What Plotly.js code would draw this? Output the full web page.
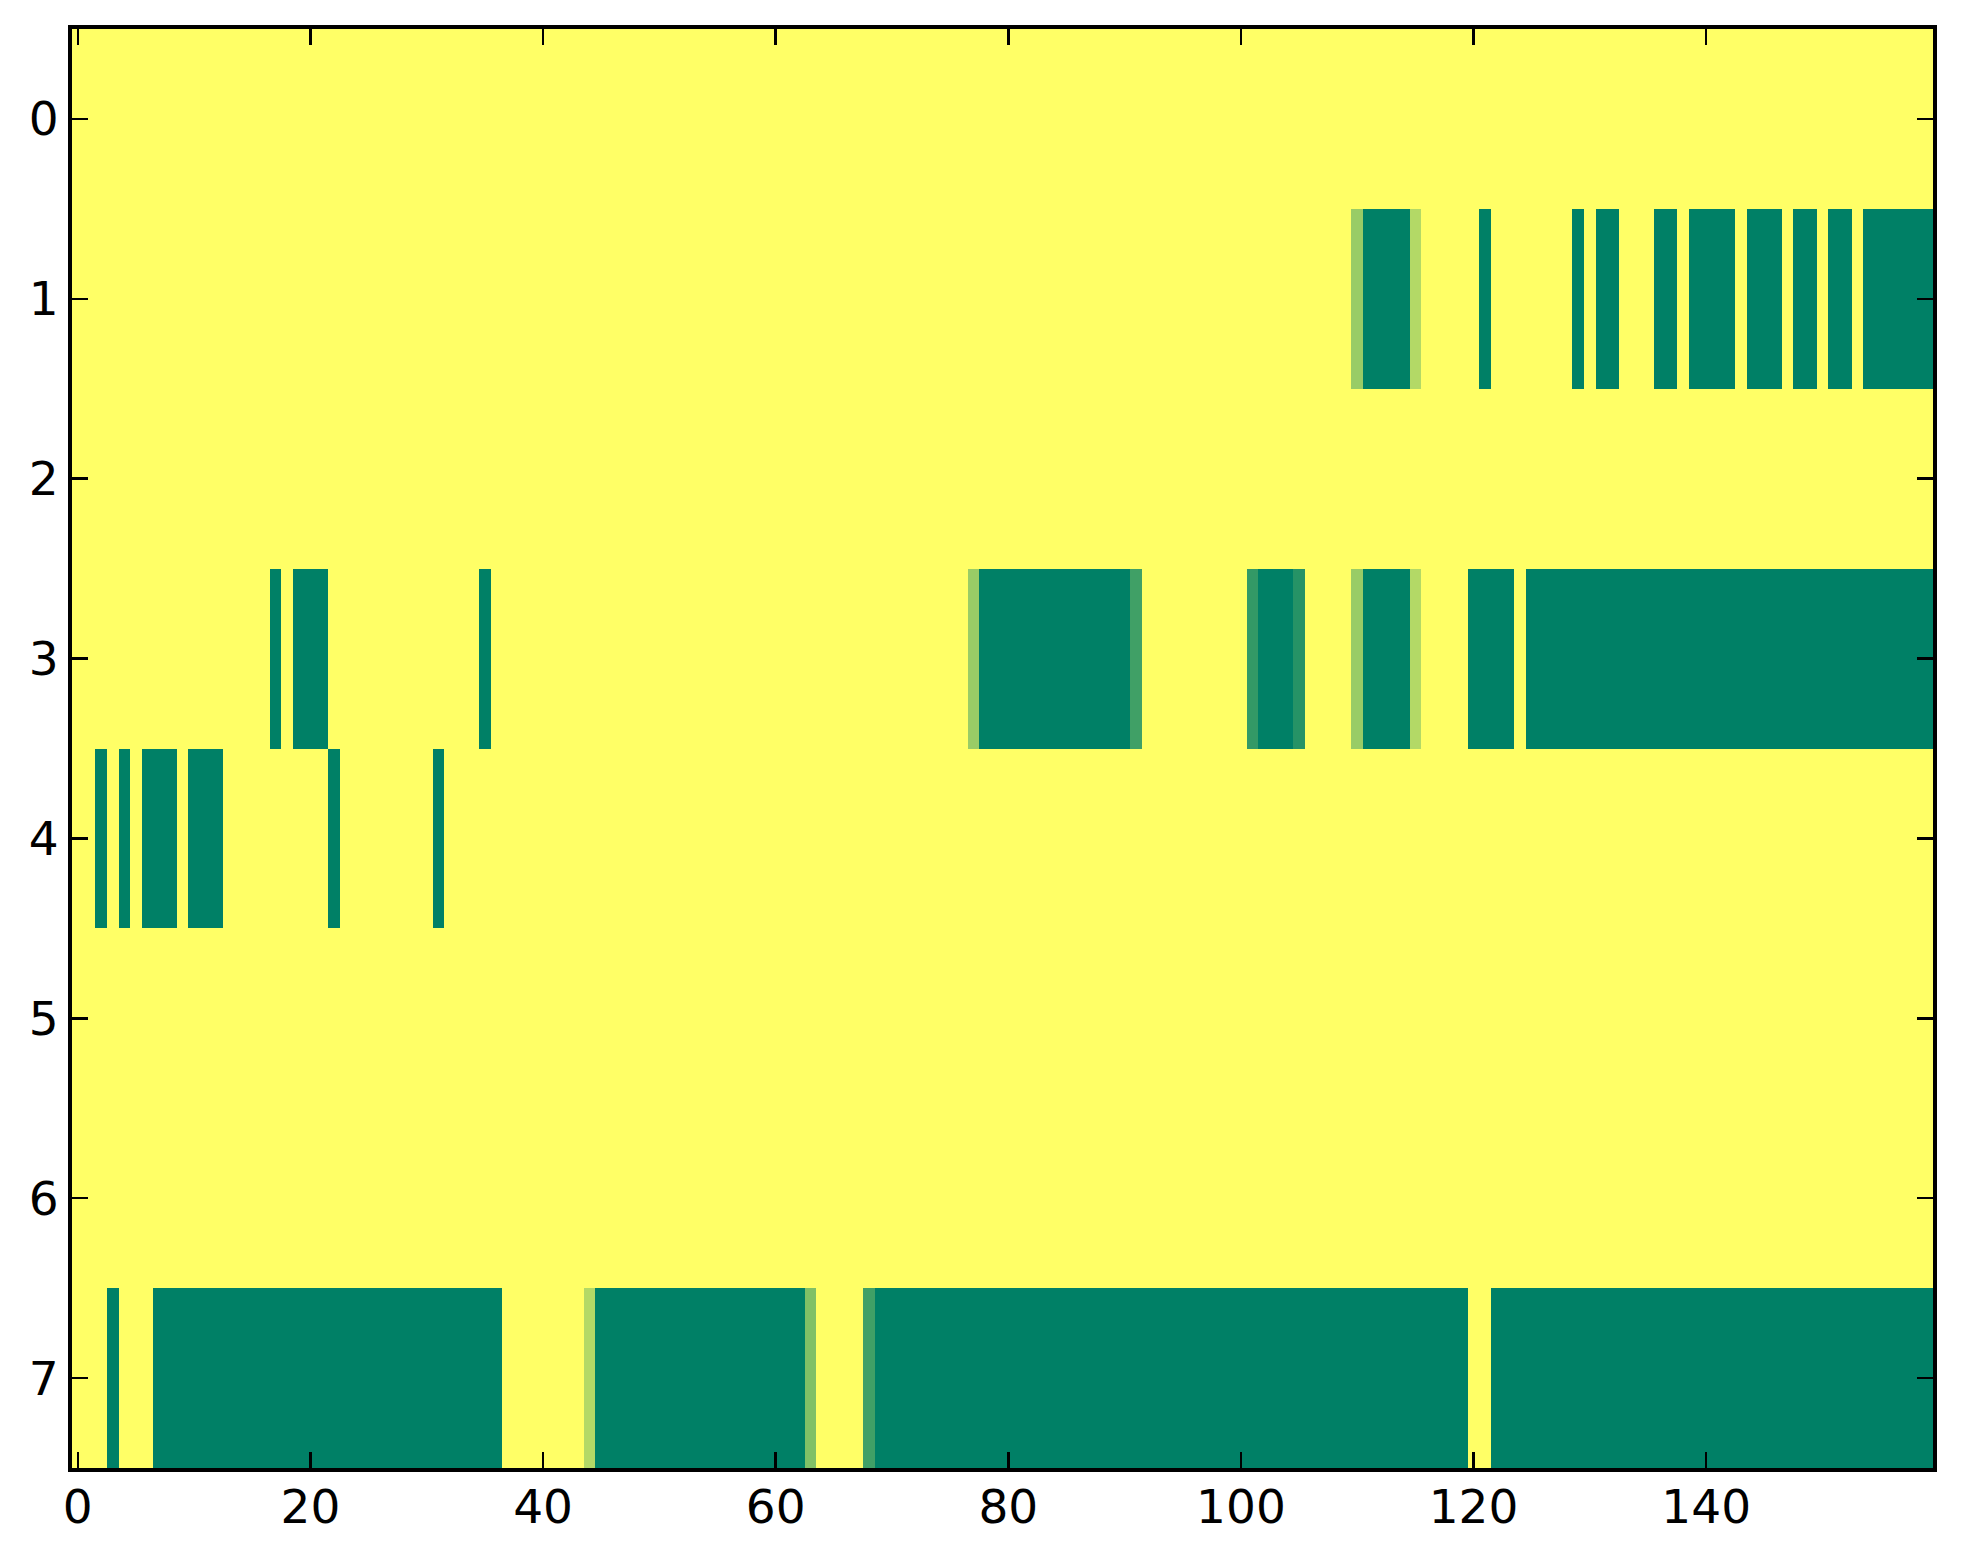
<!DOCTYPE html>
<html>
<head>
<meta charset="utf-8">
<script src="https://cdn.plot.ly/plotly-3.0.1.min.js"></script>
<style>html,body{margin:0;padding:0;background:#fff;}#chart{width:1963px;height:1564px;}</style>
</head>
<body>
<div id="chart"></div>
<script>
// 8 rows x 160 columns (1 = yellow, 0 = dark green)
const row0 = [
1,1,1,1,1,1,1,1,1,1, 1,1,1,1,1,1,1,1,1,1, 1,1,1,1,1,1,1,1,1,1, 1,1,1,1,1,1,1,1,1,1,
1,1,1,1,1,1,1,1,1,1, 1,1,1,1,1,1,1,1,1,1, 1,1,1,1,1,1,1,1,1,1, 1,1,1,1,1,1,1,1,1,1,
1,1,1,1,1,1,1,1,1,1, 1,1,1,1,1,1,1,1,1,1, 1,1,1,1,1,1,1,1,1,1, 1,1,1,1,1,1,1,1,1,1,
1,1,1,1,1,1,1,1,1,1, 1,1,1,1,1,1,1,1,1,1, 1,1,1,1,1,1,1,1,1,1, 1,1,1,1,1,1,1,1,1,1];
const row1 = [
1,1,1,1,1,1,1,1,1,1, 1,1,1,1,1,1,1,1,1,1, 1,1,1,1,1,1,1,1,1,1, 1,1,1,1,1,1,1,1,1,1,
1,1,1,1,1,1,1,1,1,1, 1,1,1,1,1,1,1,1,1,1, 1,1,1,1,1,1,1,1,1,1, 1,1,1,1,1,1,1,1,1,1,
1,1,1,1,1,1,1,1,1,1, 1,1,1,1,1,1,1,1,1,1, 1,1,1,1,1,1,1,1,1,1, 0.6,0,0,0,0,0.7,1,1,1,1,
1,0,1,1,1,1,1,1,1,0, 1,0,0,1,1,1,0,0,1,0, 0,0,0,1,0,0,0,1,0,0, 1,0,0,1,0,0,0,0,0,0];
const row2 = [
1,1,1,1,1,1,1,1,1,1, 1,1,1,1,1,1,1,1,1,1, 1,1,1,1,1,1,1,1,1,1, 1,1,1,1,1,1,1,1,1,1,
1,1,1,1,1,1,1,1,1,1, 1,1,1,1,1,1,1,1,1,1, 1,1,1,1,1,1,1,1,1,1, 1,1,1,1,1,1,1,1,1,1,
1,1,1,1,1,1,1,1,1,1, 1,1,1,1,1,1,1,1,1,1, 1,1,1,1,1,1,1,1,1,1, 1,1,1,1,1,1,1,1,1,1,
1,1,1,1,1,1,1,1,1,1, 1,1,1,1,1,1,1,1,1,1, 1,1,1,1,1,1,1,1,1,1, 1,1,1,1,1,1,1,1,1,1];
const row3 = [
1,1,1,1,1,1,1,1,1,1, 1,1,1,1,1,1,1,0,1,0, 0,0,1,1,1,1,1,1,1,1, 1,1,1,1,1,0,1,1,1,1,
1,1,1,1,1,1,1,1,1,1, 1,1,1,1,1,1,1,1,1,1, 1,1,1,1,1,1,1,1,1,1, 1,1,1,1,1,1,1,0.6,0,0,
0,0,0,0,0,0,0,0,0,0, 0,0.25,1,1,1,1,1,1,1,1, 1,0.2,0,0,0,0.15,1,1,1,1, 0.6,0,0,0,0,0.7,1,1,1,1,
0,0,0,0,1,0,0,0,0,0, 0,0,0,0,0,0,0,0,0,0, 0,0,0,0,0,0,0,0,0,0, 0,0,0,0,0,0,0,0,0,0];
const row4 = [
1,1,0,1,0,1,0,0,0,1, 0,0,0,1,1,1,1,1,1,1, 1,1,0,1,1,1,1,1,1,1, 1,0,1,1,1,1,1,1,1,1,
1,1,1,1,1,1,1,1,1,1, 1,1,1,1,1,1,1,1,1,1, 1,1,1,1,1,1,1,1,1,1, 1,1,1,1,1,1,1,1,1,1,
1,1,1,1,1,1,1,1,1,1, 1,1,1,1,1,1,1,1,1,1, 1,1,1,1,1,1,1,1,1,1, 1,1,1,1,1,1,1,1,1,1,
1,1,1,1,1,1,1,1,1,1, 1,1,1,1,1,1,1,1,1,1, 1,1,1,1,1,1,1,1,1,1, 1,1,1,1,1,1,1,1,1,1];
const row5 = row0.slice();
const row6 = row0.slice();
const row7 = [
1,1,1,0,1,1,1,0,0,0, 0,0,0,0,0,0,0,0,0,0, 0,0,0,0,0,0,0,0,0,0, 0,0,0,0,0,0,0,1,1,1,
1,1,1,1,0.7,0,0,0,0,0, 0,0,0,0,0,0,0,0,0,0, 0,0,0,0.5,1,1,1,1,0.25,0, 0,0,0,0,0,0,0,0,0,0,
0,0,0,0,0,0,0,0,0,0, 0,0,0,0,0,0,0,0,0,0, 0,0,0,0,0,0,0,0,0,0, 0,0,0,0,0,0,0,0,0,0,
1,1,0,0,0,0,0,0,0,0, 0,0,0,0,0,0,0,0,0,0, 0,0,0,0,0,0,0,0,0,0, 0,0,0,0,0,0,0,0,0,0];

const rowLabels = [0,1,2,3,4,5,6,7];
const colIndex = row0.map((v, i) => i);
const xTicks = [0,20,40,60,80,100,120,140];

const z = [row0,row1,row2,row3,row4,row5,row6,row7];

const trace = {
  type: 'heatmap',
  z: z,
  x: colIndex,
  y: rowLabels,
  zmin: 0, zmax: 1,
  zsmooth: false,
  showscale: false,
  colorscale: [[0,'rgb(0,128,102)'],[1,'rgb(255,255,102)']],
  hoverinfo: 'x+y+z'
};

const axisFont = {family: 'DejaVu Sans', size: 47, color: '#000'};
const layout = {
  width: 1963, height: 1564,
  margin: {l: 72, r: 30, t: 29, b: 96, pad: 0},
  paper_bgcolor: '#fff',
  plot_bgcolor: '#fff',
  showlegend: false,
  xaxis: {
    range: [-0.5, 159.5],
    tickmode: 'array', tickvals: xTicks, ticktext: xTicks.map(String),
    ticks: 'inside', ticklen: 16, tickwidth: 2.5, tickcolor: '#000',
    showline: true, linecolor: '#000', linewidth: 4, mirror: 'allticks',
    showgrid: false, zeroline: false,
    tickfont: axisFont, ticklabelstandoff: -5
  },
  yaxis: {
    range: [7.5, -0.5],
    tickmode: 'array', tickvals: rowLabels, ticktext: rowLabels.map(String),
    ticks: 'inside', ticklen: 16, tickwidth: 2.5, tickcolor: '#000',
    showline: true, linecolor: '#000', linewidth: 4, mirror: 'allticks',
    showgrid: false, zeroline: false,
    tickfont: axisFont, ticklabelstandoff: 0
  }
};

Plotly.newPlot('chart', [trace], layout, {displayModeBar: false, staticPlot: true});
</script>
</body>
</html>
